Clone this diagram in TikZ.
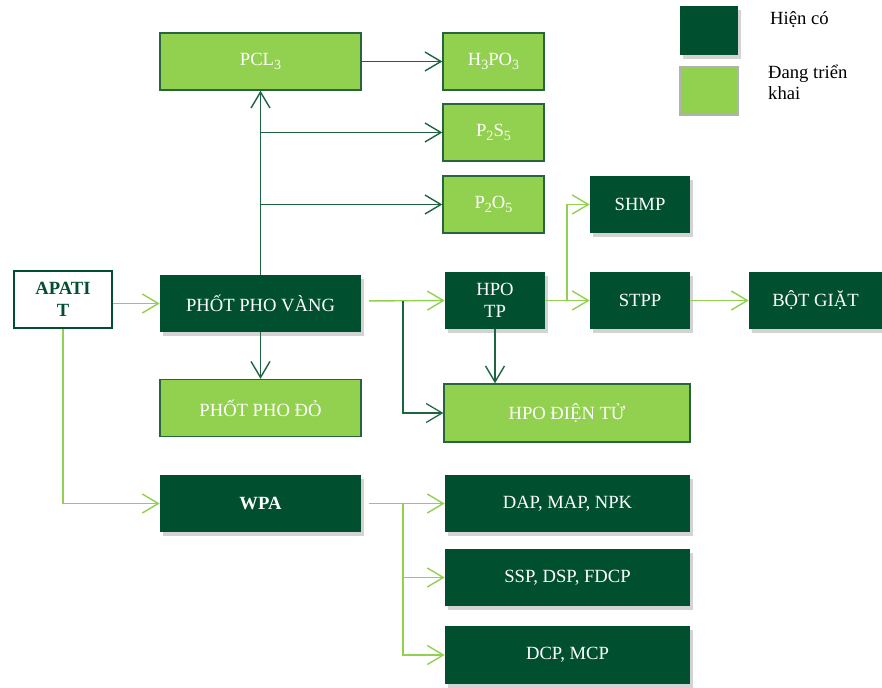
\documentclass[tikz,border=0pt]{standalone}
\usepackage{fontspec}
\setmainfont{Liberation Serif}
\usetikzlibrary{arrows.meta,shadows}
\definecolor{darkgreen}{RGB}{0,80,48}
\definecolor{lightgreen}{RGB}{146,208,80}
\definecolor{linedark}{RGB}{30,100,65}
\definecolor{boxedge}{RGB}{40,100,60}
\newcommand{\lowsub}[1]{\raisebox{-0.55ex}{\fontsize{8}{8}\selectfont #1}}

\begin{document}
\begin{tikzpicture}[x=0.02cm, y=-0.02cm, font=\fontsize{10.6}{12.7}\selectfont]
    \tikzstyle{node_dark} = [draw=none, fill=darkgreen, text=white, minimum height=1.14cm, align=center, drop shadow={shadow xshift=1.5pt, shadow yshift=-2pt, opacity=0.35}]
    \tikzstyle{node_light} = [draw=boxedge, line width=0.8pt, fill=lightgreen, text=white, minimum height=1.14cm, align=center]
    \tikzstyle{arrow_dark} = [-{Straight Barb[length=0.32cm, width=0.38cm]}, linedark, line width=0.8pt]
    \tikzstyle{arrow_light} = [-{Straight Barb[length=0.32cm, width=0.38cm]}, lightgreen, line width=0.8pt]

    \useasboundingbox (0,0) rectangle (882,688);

    \node[draw=darkgreen, line width=1.1pt, fill=white, text=darkgreen, font={\fontsize{10.6}{12.7}\selectfont\bfseries}, minimum width=1.96cm, minimum height=1.14cm, align=center] (apatit) at (63,299.5) {APATI\\T};

    \node[node_dark, minimum width=4.02cm] (vang) at (260.5,303.5) {PHỐT PHO VÀNG};
    \node[node_light, minimum width=4.02cm] (pcl) at (260.5,61.5) {PCL\lowsub{3}};
    \node[node_light, minimum width=4.02cm] (do) at (260.5,408) {PHỐT PHO ĐỎ};
    \node[node_dark, minimum width=4.02cm, font={\fontsize{10.6}{12.7}\selectfont\bfseries}] (wpa) at (260.5,503.5) {WPA};

    \node[node_light, minimum width=2.02cm] (h3po3) at (493.5,61.5) {H\lowsub{3}PO\lowsub{3}};
    \node[node_light, minimum width=2.02cm] (p2s5) at (493.5,132.5) {P\lowsub{2}S\lowsub{5}};
    \node[node_light, minimum width=2.02cm] (p2o5) at (493.5,204.5) {P\lowsub{2}O\lowsub{5}};

    \node[node_dark, minimum width=2cm] (hpotp) at (495,300.5) {HPO\\TP};
    \node[node_light, minimum width=4.92cm, minimum height=1.16cm] (dientu) at (567,413) {HPO ĐIỆN TỬ};
    \node[node_dark, minimum width=2cm] (shmp) at (640,204.5) {SHMP};
    \node[node_dark, minimum width=2cm] (stpp) at (640,300.5) {STPP};
    \node[node_dark, minimum width=2.66cm] (botgiat) at (815.5,300.5) {BỘT GIẶT};

    \node[node_dark, minimum width=4.9cm] (dap) at (567.5,503.5) {DAP, MAP, NPK};
    \node[node_dark, minimum width=4.9cm] (ssp) at (567.5,577.5) {SSP, DSP, FDCP};
    \node[node_dark, minimum width=4.9cm, minimum height=1.16cm] (dcp) at (567.5,655) {DCP, MCP};

    % ---------------------------------------

    \draw[arrow_light] (apatit.east |- vang.west) -- (vang.west);
    \draw[arrow_light] (apatit.south) |- (wpa.west);

    \draw[arrow_dark] (vang.north) -- (pcl.south);
    \draw[arrow_dark] (vang.north |- p2s5) -- (p2s5.west);
    \draw[arrow_dark] (vang.north |- p2o5) -- (p2o5.west);
    \draw[arrow_dark] (pcl.east) -- (h3po3.west);
    \draw[arrow_dark] (vang.south) -- (do.north);

    \coordinate (j1) at (403,301);
    \draw[arrow_light, shorten <=4.5pt] (vang.east |- j1) -- (hpotp.west);
    \draw[arrow_dark, line width=0.7pt] (j1) |- (dientu.west);
    \draw[arrow_dark] (hpotp.south) -- (hpotp.south |- dientu.north);

    \coordinate (j2) at (567,301);
    \draw[arrow_light] (hpotp.east) -- (stpp.west);
    \draw[arrow_light] (j2) |- (shmp.west);
    \draw[arrow_light] (stpp.east) -- (botgiat.west);

    \coordinate (j3) at (403,503.5);
    \draw[arrow_light, shorten <=4.5pt] (wpa.east) -- (dap.west);
    \draw[arrow_light] (j3) |- (ssp.west);
    \draw[arrow_light] (j3) |- (dcp.west);

    % ---------------------------------------

    \node[node_dark, minimum width=1.16cm, minimum height=0.98cm] (leg_dark) at (709,30.5) {};
    \node[draw=gray!60, line width=0.8pt, fill=lightgreen, minimum width=1.16cm, minimum height=0.96cm] (leg_light) at (709,91) {};
    \node[anchor=west] (leg_dark_txt) at (764,20) {Hiện có};
    \node[anchor=north west, align=left, font={\fontsize{10.6}{12pt}\selectfont}] (leg_light_txt) at (762,59) {Đang triển\\khai};

\end{tikzpicture}
\end{document}
